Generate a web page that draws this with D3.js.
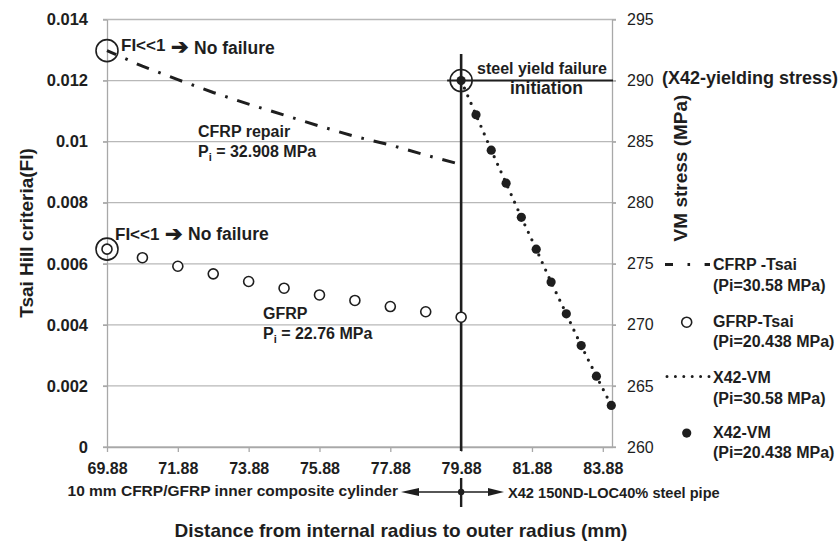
<!DOCTYPE html>
<html>
<head>
<meta charset="utf-8">
<script src="https://cdn.jsdelivr.net/npm/d3@7"></script>
<style>
body { margin: 0; background: #fff; }
svg { display: block; font-family: "Liberation Sans", Arial, sans-serif; }
</style>
</head>
<body>
<svg id="chart" width="839" height="541"></svg>
<script>
// radius positions (mm) of the composite layer and of the steel wall
var radiusComposite = [69.88, 70.88, 71.88, 72.88, 73.88, 74.88, 75.88, 76.88, 77.88, 78.88, 79.88];
var radiusSteel = [79.88, 80.30, 80.73, 81.15, 81.58, 82.00, 82.42, 82.85, 83.27, 83.70, 84.12];

// Tsai-Hill failure index
var cfrpTsai = [0.01298, 0.01247, 0.01203, 0.01161, 0.01123, 0.01087, 0.01051, 0.01017, 0.00989, 0.00956, 0.00925];
var gfrpTsai = [0.00648, 0.00620, 0.00592, 0.00567, 0.00542, 0.00520, 0.00498, 0.00480, 0.00460, 0.00443, 0.00425];

// von Mises stress in the steel (MPa)
var vmHigh = [290.0, 287.2, 284.3, 281.6, 278.8, 276.2, 273.5, 270.9, 268.3, 265.8, 263.4];
var vmLow = [290.0, 287.2, 284.3, 281.6, 278.8, 276.2, 273.5, 270.9, 268.3, 265.8, 263.4];

var xTicks = [69.88, 71.88, 73.88, 75.88, 77.88, 79.88, 81.88, 83.88];
var leftTicks = [0, 0.002, 0.004, 0.006, 0.008, 0.01, 0.012, 0.014];
var leftTickLabels = ["0", "0.002", "0.004", "0.006", "0.008", "0.01", "0.012", "0.014"];
var rightTicks = [260, 265, 270, 275, 280, 285, 290, 295];

var legendNames = ["CFRP -Tsai", "GFRP-Tsai", "X42-VM", "X42-VM"];
var legendPressures = ["(Pi=30.58 MPa)", "(Pi=20.438 MPa)", "(Pi=30.58 MPa)", "(Pi=20.438 MPa)"];

var ink = "#1e1e1e";
var plotLeft = 107, plotRight = 612, plotTop = 19.5, plotBottom = 447;

var svg = d3.select("#chart");

var x = d3.scaleLinear().domain([69.88, 84.14]).range([plotLeft, plotRight]);
var yFI = d3.scaleLinear().domain([0, 0.014]).range([plotBottom, plotTop]);
var yVM = d3.scaleLinear().domain([260, 295]).range([plotBottom, plotTop]);

// horizontal gridlines
svg.append("g").selectAll("line")
    .data(leftTicks)
    .join("line")
    .attr("x1", plotLeft - 4)
    .attr("x2", plotRight + 4)
    .attr("y1", d => yFI(d))
    .attr("y2", d => yFI(d))
    .attr("stroke", "#b8b8b8")
    .attr("stroke-width", 1.3);

function styleAxis(g, size, weight) {
    g.select(".domain").attr("stroke", "#a8a8a8").attr("stroke-width", 1.3);
    g.selectAll(".tick line").attr("stroke", "#a8a8a8").attr("stroke-width", 1.3);
    g.selectAll(".tick text")
        .attr("font-family", "'Liberation Sans', Arial, sans-serif")
        .attr("font-size", size)
        .attr("font-weight", weight)
        .attr("fill", ink);
}

var axisL = svg.append("g")
    .attr("transform", "translate(" + plotLeft + ",0)")
    .call(d3.axisLeft(yFI).tickValues(leftTicks).tickSize(4).tickSizeOuter(0).tickPadding(15)
        .tickFormat((d, i) => leftTickLabels[i]));
styleAxis(axisL, 16.5, "bold");

var axisR = svg.append("g")
    .attr("transform", "translate(" + plotRight + ",0)")
    .call(d3.axisRight(yVM).tickValues(rightTicks).tickSize(4).tickSizeOuter(0).tickPadding(11));
styleAxis(axisR, 16, "normal");

var axisB = svg.append("g")
    .attr("transform", "translate(0," + plotBottom + ")")
    .call(d3.axisBottom(x).tickValues(xTicks).tickSize(5).tickSizeOuter(0).tickPadding(10.5)
        .tickFormat(d3.format(".2f")));
styleAxis(axisB, 16, "bold");

// yield stress marker line and composite/steel boundary
var xBoundary = x(79.88);
svg.append("line")
    .attr("x1", xBoundary - 14).attr("x2", plotRight + 1)
    .attr("y1", yVM(290)).attr("y2", yVM(290))
    .attr("stroke", ink).attr("stroke-width", 2);
svg.append("line")
    .attr("x1", xBoundary).attr("x2", xBoundary)
    .attr("y1", 54).attr("y2", 451)
    .attr("stroke", ink).attr("stroke-width", 2.6);

// CFRP Tsai-Hill, dash-dot line
var lineFI = d3.line()
    .x((d, i) => x(radiusComposite[i]))
    .y(d => yFI(d));
svg.append("path")
    .datum(cfrpTsai)
    .attr("d", lineFI)
    .attr("fill", "none")
    .attr("stroke", ink)
    .attr("stroke-width", 3)
    .attr("stroke-dasharray", "13,10,2.6,10")
    .attr("stroke-dashoffset", 3);

// GFRP Tsai-Hill, open circles
svg.append("g").selectAll("circle")
    .data(gfrpTsai)
    .join("circle")
    .attr("cx", (d, i) => x(radiusComposite[i]))
    .attr("cy", d => yFI(d))
    .attr("r", 5)
    .attr("fill", "#fff")
    .attr("stroke", ink)
    .attr("stroke-width", 1.6);

// X42 von Mises, dotted line
var lineVM = d3.line()
    .x((d, i) => x(radiusSteel[i]))
    .y(d => yVM(d));
svg.append("path")
    .datum(vmHigh)
    .attr("d", lineVM)
    .attr("fill", "none")
    .attr("stroke", ink)
    .attr("stroke-width", 3.2)
    .attr("stroke-linecap", "round")
    .attr("stroke-dasharray", "0,8.3");

// X42 von Mises, filled circles
svg.append("g").selectAll("circle")
    .data(vmLow)
    .join("circle")
    .attr("cx", (d, i) => x(radiusSteel[i]))
    .attr("cy", d => yVM(d))
    .attr("r", 4.6)
    .attr("fill", ink);

// highlight rings
var rings = [
    [x(radiusComposite[0]), yFI(cfrpTsai[0])],
    [x(radiusComposite[0]), yFI(gfrpTsai[0])],
    [x(radiusSteel[0]), yVM(vmLow[0])]
];
svg.append("g").selectAll("circle")
    .data(rings)
    .join("circle")
    .attr("cx", d => d[0])
    .attr("cy", d => d[1])
    .attr("r", 11)
    .attr("fill", "none")
    .attr("stroke", ink)
    .attr("stroke-width", 1.6);

// annotations
function label(xp, yp, txt, size, anchor) {
    return svg.append("text")
        .attr("x", xp).attr("y", yp)
        .attr("font-size", size)
        .attr("font-weight", "bold")
        .attr("fill", ink)
        .attr("text-anchor", anchor || "start")
        .text(txt);
}

function noFailure(xp, yp, drop) {
    var t = svg.append("text")
        .attr("font-weight", "bold")
        .attr("font-size", 17)
        .attr("fill", ink);
    t.append("tspan").attr("x", xp).attr("y", yp).text("FI<<1");
    t.append("tspan").attr("x", xp + 50).attr("y", yp + 1 + drop / 2).attr("font-size", 21).text("\u2794");
    t.append("tspan").attr("x", xp + 73).attr("y", yp + drop).attr("font-size", 17.5).text("No failure");
}
noFailure(121, 51, 3);
noFailure(115, 240, 0);

function pressure(xp, yp, txt) {
    var t = svg.append("text")
        .attr("x", xp).attr("y", yp)
        .attr("font-size", 16)
        .attr("font-weight", "bold")
        .attr("fill", ink);
    t.append("tspan").text("P");
    t.append("tspan").attr("dy", 4).attr("font-size", 11).text("i");
    t.append("tspan").attr("dy", -4).text(" = " + txt);
}
label(198, 137, "CFRP repair", 16);
pressure(198, 157, "32.908 MPa");
label(263, 319, "GFRP", 16);
pressure(263, 339, "22.76 MPa");

label(477, 74, "steel yield failure", 16);
label(510, 94, "initiation", 17.5);
label(662, 84, "(X42-yielding stress)", 18);

// axis titles
label(0, 0, "Tsai Hill criteria(FI)", 19, "middle")
    .attr("transform", "translate(33,233) rotate(-90)");
label(0, 0, "VM stress (MPa)", 19, "middle")
    .attr("transform", "translate(687,168) rotate(-90)");
label(401, 537, "Distance from internal radius to outer radius (mm)", 19, "middle");

// region arrows under the x axis
var yArrow = 492;
label(398, 496, "10 mm CFRP/GFRP inner composite cylinder", 15.5, "end");
label(508, 498, "X42 150ND-LOC40% steel pipe", 14.6);
svg.append("line")
    .attr("x1", 416).attr("x2", 491)
    .attr("y1", yArrow).attr("y2", yArrow)
    .attr("stroke", ink).attr("stroke-width", 1.5);
svg.append("path")
    .attr("d", "M401," + yArrow + "L419," + (yArrow - 4) + "L419," + (yArrow + 4) + "Z")
    .attr("fill", ink);
svg.append("path")
    .attr("d", "M504," + yArrow + "L488," + (yArrow - 4) + "L488," + (yArrow + 4) + "Z")
    .attr("fill", ink);
svg.append("line")
    .attr("x1", xBoundary).attr("x2", xBoundary)
    .attr("y1", 478).attr("y2", 507)
    .attr("stroke", ink).attr("stroke-width", 2.4);
svg.append("circle")
    .attr("cx", xBoundary).attr("cy", yArrow).attr("r", 3.2)
    .attr("fill", ink);

// legend
var legendTop = 270, legendStep = 56.7, legendText = 713;
var lg = svg.append("g");
lg.selectAll("text.name")
    .data(legendNames)
    .join("text")
    .attr("class", "name")
    .attr("x", legendText)
    .attr("y", (d, i) => legendTop + i * legendStep - (i == 3 ? 2 : 0))
    .attr("font-size", 16).attr("font-weight", "bold").attr("fill", ink)
    .text(d => d);
lg.selectAll("text.pi")
    .data(legendPressures)
    .join("text")
    .attr("class", "pi")
    .attr("x", legendText)
    .attr("y", (d, i) => legendTop + 20.5 + i * legendStep - (i == 3 ? 3 : 0))
    .attr("font-size", 16).attr("font-weight", "bold").attr("fill", ink)
    .text(d => d);

lg.append("line")
    .attr("x1", 665).attr("x2", 710)
    .attr("y1", legendTop - 5.5).attr("y2", legendTop - 5.5)
    .attr("stroke", ink).attr("stroke-width", 3)
    .attr("stroke-dasharray", "8,14.5,2.6,14.5,8");
lg.append("circle")
    .attr("cx", 686.7).attr("cy", legendTop + legendStep - 4.5).attr("r", 5)
    .attr("fill", "#fff").attr("stroke", ink).attr("stroke-width", 1.6);
lg.append("line")
    .attr("x1", 667).attr("x2", 709)
    .attr("y1", legendTop + 2 * legendStep - 7).attr("y2", legendTop + 2 * legendStep - 7)
    .attr("stroke", ink).attr("stroke-width", 3)
    .attr("stroke-linecap", "round")
    .attr("stroke-dasharray", "0,8.4");
lg.append("circle")
    .attr("cx", 686.7).attr("cy", legendTop + 3 * legendStep - 7).attr("r", 4.6)
    .attr("fill", ink);
</script>
</body>
</html>
